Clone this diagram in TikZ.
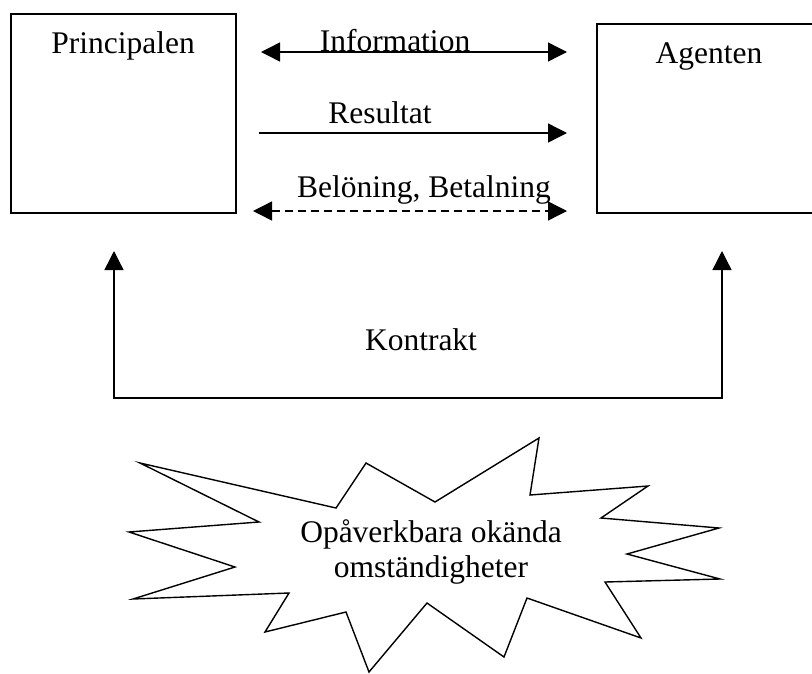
\documentclass[tikz,border=0pt]{standalone}
\usepackage{fontspec}
\setmainfont{Liberation Serif}
\usetikzlibrary{arrows.meta}
\begin{document}
\begin{tikzpicture}[x=1pt,y=-1pt,line width=1.4pt,
  lbl/.style={font=\fontsize{31.5}{35}\selectfont, inner sep=0pt, anchor=base},
  box/.style={draw, line width=1.4pt, inner sep=0pt},
  tipr/.style={-{Triangle[length=19pt,width=19pt]}},
  tipb/.style={{Triangle[length=19pt,width=19pt]}-{Triangle[length=19pt,width=19pt]}},
  dsh/.style={dash pattern=on 8pt off 5pt}]
\useasboundingbox (0,0) rectangle (812,673);
\clip (0,0) rectangle (812,673);
% boxes
\node[box, minimum width=225pt, minimum height=199pt] (P) at (123.5,113.5) {};
\node[box, minimum width=216pt, minimum height=189pt] (A) at (705,118.5) {};
\node[lbl] (Pt) at (123,53) {Principalen};
\node[lbl] (At) at (709,63) {Agenten};
% middle arrows
\coordinate (i1) at (261,52);  \coordinate (i2) at (567,52);
\coordinate (r1) at (259,133); \coordinate (r2) at (567,133);
\coordinate (b1) at (253,211); \coordinate (b2) at (567,211);
\draw[tipb] (i1) -- (i2);
\draw[tipr] (r1) -- (r2);
\draw[tipb,dsh] (b1) -- (b2);
\node[lbl] (It) at (395,51) {Information};
\node[lbl] (Rt) at (380,123) {Resultat};
\node[lbl] (Bt) at (424,197) {Belöning, Betalning};
% contract
\coordinate (k1) at (114,251); \coordinate (k2) at (114,398);
\coordinate (k3) at (722,398); \coordinate (k4) at (722,251);
\draw[tipb] (k1) -- (k2) -- (k3) -- (k4);
\node[lbl] (Kt) at (421,350) {Kontrakt};
% starburst
\draw[line join=miter] (140,463) -- (336,508) -- (366,463) -- (435,502) -- (539,438)
  -- (530,495) -- (648,486) -- (601,518) -- (719,528) -- (627,554)
  -- (720,579) -- (605,582) -- (641,638) -- (527,598) -- (504,657)
  -- (427,603) -- (369,672) -- (346,612) -- (265,632) -- (289,593)
  -- (133,599) -- (235,567) -- (129,532) -- (259,522) -- cycle;
\node[font=\fontsize{31.5}{35}\selectfont, align=center, inner sep=0pt] (U) at (431,552)
  {Opåverkbara okända\\omständigheter};
\end{tikzpicture}
\end{document}
